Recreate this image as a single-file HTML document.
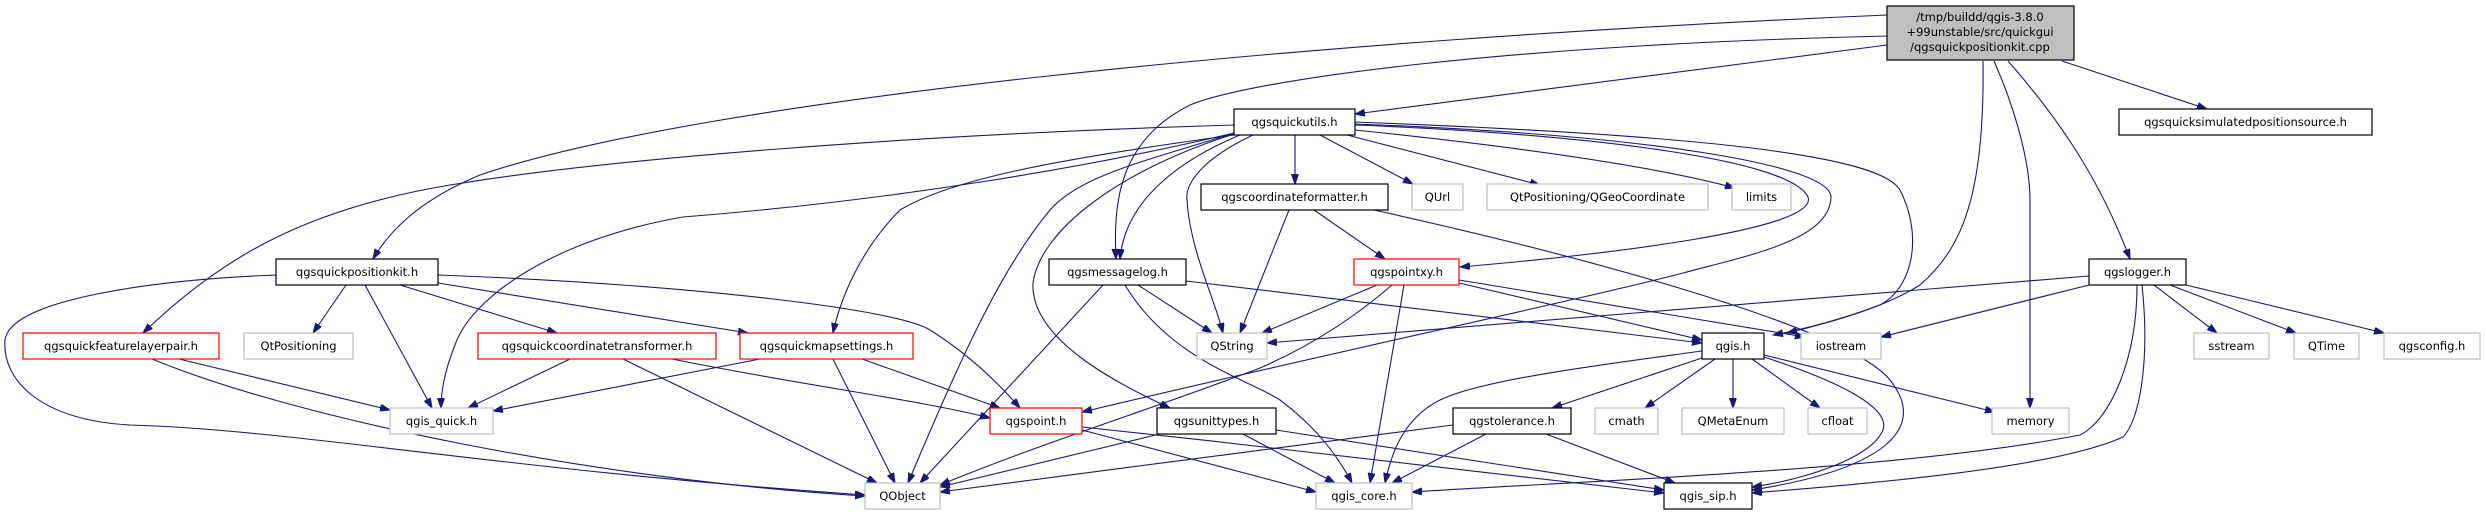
<!DOCTYPE html>
<html><head><meta charset="utf-8"><style>
html,body{margin:0;padding:0;background:#fff;}
svg{display:block;}
text{font-family:"DejaVu Sans","Liberation Sans",sans-serif;font-size:11.5px;fill:#000;text-anchor:middle;}
.e{fill:none;stroke:#191970;stroke-width:1.1;marker-end:url(#a);}
.k{fill:#fff;stroke:#000;stroke-width:1.2;}
.r{fill:#fff;stroke:#ff0000;stroke-width:1.2;}
.g{fill:#fff;stroke:#bfbfbf;stroke-width:1.2;}
</style></head><body>
<svg width="2486" height="515" viewBox="0 0 2486 515" xmlns="http://www.w3.org/2000/svg">
<defs><marker id="a" markerUnits="userSpaceOnUse" markerWidth="11" markerHeight="8" refX="10" refY="3.5" orient="auto"><path d="M0,0 L10,3.5 L0,7 z" fill="#191970" stroke="#191970"/></marker></defs>
<g>
<path class="e" d="M1887,15 C1300,40 700,100 480,175 C420,200 390,230 373,259"/>
<path class="e" d="M1887,45 L1355,114"/>
<path class="e" d="M1887,36 C1500,45 1250,80 1190,105 C1120,140 1113,200 1116,259"/>
<path class="e" d="M1983,61 C1985,200 1960,250 1920,285 C1880,310 1820,325 1787,333"/>
<path class="e" d="M1994,61 C2020,120 2030,170 2030,200 L2030,408"/>
<path class="e" d="M2008,61 C2060,120 2100,180 2130,259"/>
<path class="e" d="M2062,61 L2207,109"/>
<path class="e" d="M1234,125 C900,135 600,160 450,185 C300,210 220,260 143,333"/>
<path class="e" d="M1234,133 C1100,165 900,200 683,217 C550,240 470,300 455,345 C445,370 441,390 441,408"/>
<path class="e" d="M1234,135 C1050,160 950,180 900,210 C860,250 840,300 833,333"/>
<path class="e" d="M1234,133 C1150,160 1080,175 1050,210 C1000,270 960,360 908,483"/>
<path class="e" d="M1240,135 C1180,160 1125,200 1120,259"/>
<path class="e" d="M1234,134 C1120,170 1040,230 1033,283 C1030,340 1120,385 1170,408"/>
<path class="e" d="M1253,135 C1200,160 1185,185 1187,200 C1190,250 1215,300 1223,333"/>
<path class="e" d="M1295,135 L1295,184"/>
<path class="e" d="M1320,135 L1413,184"/>
<path class="e" d="M1347,135 L1540,185"/>
<path class="e" d="M1355,130 C1500,145 1650,165 1735,188"/>
<path class="e" d="M1355,125 C1600,135 1790,160 1808,197 C1820,230 1600,255 1460,267"/>
<path class="e" d="M1355,124 C1650,135 1830,165 1831,197 C1830,240 1750,255 1683,273 C1600,295 1300,360 1082,412"/>
<path class="e" d="M1355,122 C1700,135 1880,155 1900,190 C1925,240 1910,290 1880,305 C1840,320 1800,330 1773,335"/>
<path class="e" d="M276,275 C150,280 10,300 5,340 C2,380 40,420 130,425 C300,430 500,470 865,495"/>
<path class="e" d="M346,285 L313,333"/>
<path class="e" d="M365,285 L432,408"/>
<path class="e" d="M400,285 L557,333"/>
<path class="e" d="M438,283 L748,333"/>
<path class="e" d="M438,275 C700,285 900,310 930,330 C970,355 1000,385 1020,408"/>
<path class="e" d="M179,359 L390,410"/>
<path class="e" d="M152,359 C300,420 600,480 865,496"/>
<path class="e" d="M570,359 L468,408"/>
<path class="e" d="M623,359 L877,483"/>
<path class="e" d="M672,359 C800,385 920,400 990,418"/>
<path class="e" d="M760,359 L493,411"/>
<path class="e" d="M833,359 L895,483"/>
<path class="e" d="M862,359 L1000,408"/>
<path class="e" d="M1082,430 L1316,492"/>
<path class="e" d="M1082,427 C1300,450 1550,480 1664,493"/>
<path class="e" d="M1103,285 L920,483"/>
<path class="e" d="M1138,285 L1212,333"/>
<path class="e" d="M1125,285 C1170,360 1250,380 1280,400 C1320,430 1340,460 1352,483"/>
<path class="e" d="M1186,281 L1702,343"/>
<path class="e" d="M1160,434 L940,487"/>
<path class="e" d="M1243,434 L1335,483"/>
<path class="e" d="M1276,430 L1664,490"/>
<path class="e" d="M1289,210 L1240,333"/>
<path class="e" d="M1314,210 L1385,259"/>
<path class="e" d="M1374,210 C1600,260 1850,330 1890,380 C1930,430 1880,470 1752,490"/>
<path class="e" d="M1377,285 L1262,333"/>
<path class="e" d="M1392,285 C1340,330 1290,355 1260,368 C1150,410 1050,440 940,485"/>
<path class="e" d="M1404,285 L1370,483"/>
<path class="e" d="M1459,283 L1702,340"/>
<path class="e" d="M1459,280 L1805,337"/>
<path class="e" d="M1702,358 L1552,408"/>
<path class="e" d="M1715,359 L1645,408"/>
<path class="e" d="M1733,359 L1733,408"/>
<path class="e" d="M1752,359 L1820,408"/>
<path class="e" d="M1764,355 L1995,412"/>
<path class="e" d="M1702,351 C1600,365 1480,380 1440,400 C1400,420 1390,460 1385,483"/>
<path class="e" d="M1764,357 C1850,385 1890,410 1883,430 C1870,460 1800,480 1752,487"/>
<path class="e" d="M1453,425 L940,492"/>
<path class="e" d="M1486,434 L1392,483"/>
<path class="e" d="M1546,434 L1675,483"/>
<path class="e" d="M2089,276 L1267,343"/>
<path class="e" d="M2089,285 L1881,337"/>
<path class="e" d="M2154,285 L2217,333"/>
<path class="e" d="M2170,285 L2296,333"/>
<path class="e" d="M2186,285 L2384,333"/>
<path class="e" d="M2137,285 C2137,360 2110,420 2080,435 C1900,470 1600,480 1412,492"/>
<path class="e" d="M2142,285 C2150,360 2140,420 2123,437 C2050,470 1850,485 1752,493"/>
</g>
<g>
<rect x="1887" y="6" width="187" height="54" fill="#bfbfbf" stroke="#000" stroke-width="1.2"/>
<text x="1980" y="21">/tmp/buildd/qgis-3.8.0</text>
<text x="1980" y="36">+99unstable/src/quickgui</text>
<text x="1980" y="51">/qgsquickpositionkit.cpp</text>

<rect class="k" x="1234" y="109" width="121" height="26"/><text x="1294.5" y="126">qgsquickutils.h</text>
<rect class="k" x="2119" y="109" width="253" height="26"/><text x="2245.5" y="126">qgsquicksimulatedpositionsource.h</text>
<rect class="k" x="1201" y="184" width="187" height="26"/><text x="1294.5" y="201">qgscoordinateformatter.h</text>
<rect class="g" x="1412" y="184" width="51" height="26"/><text x="1437.5" y="201">QUrl</text>
<rect class="g" x="1487" y="184" width="221" height="26"/><text x="1597.5" y="201">QtPositioning/QGeoCoordinate</text>
<rect class="g" x="1732" y="184" width="59" height="26"/><text x="1761.5" y="201">limits</text>

<rect class="k" x="276" y="259" width="162" height="26"/><text x="357" y="276">qgsquickpositionkit.h</text>
<rect class="k" x="1049" y="259" width="137" height="26"/><text x="1117.5" y="276">qgsmessagelog.h</text>
<rect class="r" x="1354" y="259" width="105" height="26"/><text x="1406.5" y="276">qgspointxy.h</text>
<rect class="k" x="2089" y="259" width="97" height="26"/><text x="2137.5" y="276">qgslogger.h</text>

<rect class="r" x="23" y="333" width="196" height="26"/><text x="121" y="350">qgsquickfeaturelayerpair.h</text>
<rect class="g" x="244" y="333" width="109" height="26"/><text x="298.5" y="350">QtPositioning</text>
<rect class="r" x="478" y="333" width="238" height="26"/><text x="597" y="350">qgsquickcoordinatetransformer.h</text>
<rect class="r" x="740" y="333" width="173" height="26"/><text x="826.5" y="350">qgsquickmapsettings.h</text>
<rect class="g" x="1197" y="333" width="70" height="26"/><text x="1232" y="350">QString</text>
<rect class="k" x="1702" y="333" width="62" height="26"/><text x="1733" y="350">qgis.h</text>
<rect class="g" x="1801" y="333" width="80" height="26"/><text x="1841" y="350">iostream</text>
<rect class="g" x="2194" y="333" width="75" height="26"/><text x="2231.5" y="350">sstream</text>
<rect class="g" x="2294" y="333" width="65" height="26"/><text x="2326.5" y="350">QTime</text>
<rect class="g" x="2384" y="333" width="96" height="26"/><text x="2432" y="350">qgsconfig.h</text>

<rect class="g" x="390" y="408" width="103" height="26"/><text x="441.5" y="425">qgis_quick.h</text>
<rect class="r" x="990" y="408" width="92" height="26"/><text x="1036" y="425">qgspoint.h</text>
<rect class="k" x="1157" y="408" width="119" height="26"/><text x="1216.5" y="425">qgsunittypes.h</text>
<rect class="k" x="1453" y="408" width="118" height="26"/><text x="1512" y="425">qgstolerance.h</text>
<rect class="g" x="1595" y="408" width="63" height="26"/><text x="1626.5" y="425">cmath</text>
<rect class="g" x="1682" y="408" width="102" height="26"/><text x="1733" y="425">QMetaEnum</text>
<rect class="g" x="1808" y="408" width="59" height="26"/><text x="1837.5" y="425">cfloat</text>
<rect class="g" x="1992" y="408" width="77" height="26"/><text x="2030.5" y="425">memory</text>

<rect class="g" x="865" y="483" width="75" height="26"/><text x="902.5" y="500">QObject</text>
<rect class="g" x="1316" y="483" width="96" height="26"/><text x="1364" y="500">qgis_core.h</text>
<rect class="k" x="1664" y="483" width="88" height="26"/><text x="1708" y="500">qgis_sip.h</text>
</g>
</svg>
</body></html>
